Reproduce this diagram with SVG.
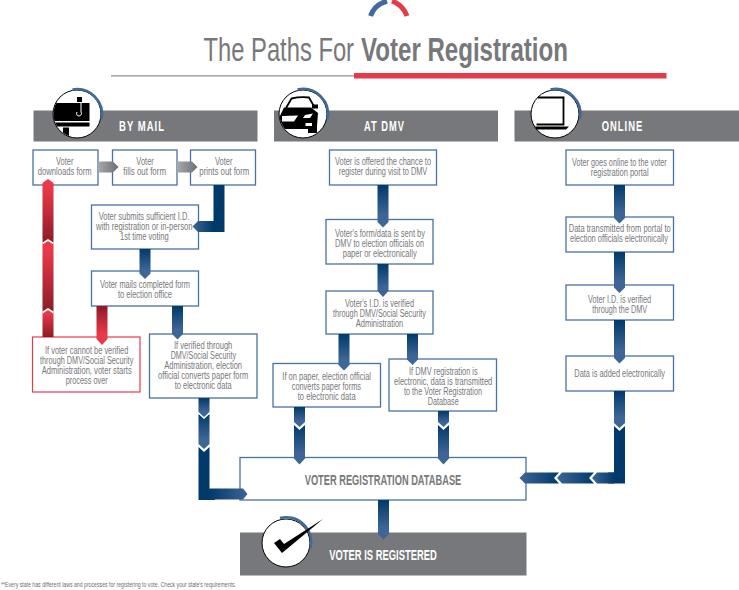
<svg xmlns="http://www.w3.org/2000/svg" width="739" height="590" viewBox="0 0 739 590">
<style>
text{font-family:"Liberation Sans",Arial,sans-serif}
.t{font-size:10px;fill:#77787b}
.h{font-size:14px;font-weight:bold;fill:#fff}
.s{letter-spacing:1.5px}
.box{fill:#fff;stroke:#4a71a0;stroke-width:1.3}
.red{fill:#fff;stroke:#e8394a;stroke-width:1.2}
.bar{fill:#77787b}
.cw{fill:none;stroke:#fff;stroke-width:1.8}
.ic{fill:#fff;stroke:#000;stroke-width:1}
.arc{fill:none;stroke:#41699a;stroke-width:2.6}
.k{fill:#000}
</style>
<defs>
<linearGradient id="gd" x1="0" y1="0" x2="0" y2="1"><stop offset="0" stop-color="#003a6b"/><stop offset=".7" stop-color="#3d6595"/></linearGradient>
<linearGradient id="gr" x1="0" y1="0" x2="1" y2="0"><stop offset="0" stop-color="#003a6b"/><stop offset="1" stop-color="#3d6595"/></linearGradient>
<linearGradient id="gl" x1="1" y1="0" x2="0" y2="0"><stop offset="0" stop-color="#003a6b"/><stop offset="1" stop-color="#3d6595"/></linearGradient>
<linearGradient id="ru" x1="0" y1="0" x2="0" y2="1"><stop offset="0" stop-color="#e8394a"/><stop offset=".15" stop-color="#e8394a"/><stop offset="1" stop-color="#8a1a26"/></linearGradient>
<linearGradient id="rd" x1="0" y1="0" x2="0" y2="1"><stop offset="0" stop-color="#8a1a26"/><stop offset=".7" stop-color="#e8394a"/></linearGradient>
<linearGradient id="gg" x1="0" y1="0" x2="1" y2="0"><stop offset="0" stop-color="#a7a9ac"/><stop offset="1" stop-color="#6d6e71"/></linearGradient>
<clipPath id="c1"><circle cx="77" cy="114" r="23.5"/></clipPath>
<clipPath id="c2"><circle cx="303" cy="114" r="23.5"/></clipPath>
</defs>

<g id="title">
<path d="M370.500 16Q374 5 387 1" fill="none" stroke="#41699a" stroke-width="5"/>
<path d="M407 16Q403 5 392 1" fill="none" stroke="#e8394a" stroke-width="5"/>
<text transform="translate(203.500 61) scale(.72 1)" font-size="33" fill="#77787b">The Paths For</text>
<text transform="translate(361 61) scale(.73 1)" font-size="33" font-weight="bold" fill="#77787b">Voter Registration</text>
<rect x="111" y="75" width="244" height="1.600" fill="#a7a9ac"/>
<rect x="354" y="73" width="312.500" height="5.500" fill="#e8394a"/>
</g>

<g id="by-mail">
<rect class="bar" x="33.500" y="110.500" width="224" height="31"/>
<circle class="ic" cx="77" cy="114" r="24"/>
<g clip-path="url(#c1)">
<rect class="k" x="52" y="103" width="37.500" height="18"/>
<rect class="k" x="52" y="122.500" width="37.500" height="4"/>
<rect class="k" x="63" y="127.500" width="6" height="12"/>
</g>
<path d="M79 98H81V112A2.500 2.500 0 1 1 77 112" fill="none" stroke="#fff" stroke-width="1"/>
<rect class="k" x="77" y="97" width="5" height="5"/>
<path class="arc" d="M72.500 89.500A25 25 0 0 1 101.500 119"/>
<text class="h s" x="119" y="131" textLength="46" lengthAdjust="spacingAndGlyphs">BY MAIL</text>
</g>
<g id="at-dmv">
<rect class="bar" x="274" y="110.500" width="224" height="31"/>
<circle class="ic" cx="303" cy="114" r="24"/>
<g clip-path="url(#c2)">
<path d="M286 108L291.500 98.500Q300 96.500 309 97.500L315 108" fill="none" stroke="#000" stroke-width="1.800"/>
<path class="k" d="M279 118L284 107.500H311L318 113L317 126V133H308V129H279Z"/>
<rect class="k" x="312" y="104.500" width="6" height="4"/>
</g>
<path d="M282 116L298 115.500L294 121.500H282ZM313 113.500L310 118H303L305 115ZM305.500 123H312V126H305.500Z" fill="#fff"/>
<path class="arc" d="M297.500 89.500A25 25 0 0 1 327.500 119"/>
<text class="h s" x="364" y="131" textLength="41" lengthAdjust="spacingAndGlyphs">AT DMV</text>
</g>
<g id="online">
<rect class="bar" x="514.500" y="110.500" width="224.500" height="31"/>
<circle class="ic" cx="555" cy="114" r="24"/>
<path d="M538 97.500H563.500V124.500H536.500" fill="none" stroke="#000" stroke-width="1.800"/>
<path class="k" d="M535 126.500H569L566 129.500H536Z"/>
<path class="arc" d="M550.500 89.500A25 25 0 0 1 580 119"/>
<text class="h s" x="601.700" y="131" textLength="41.600" lengthAdjust="spacingAndGlyphs">ONLINE</text>
</g>

<g id="n1"><rect class="box" x="33" y="150" width="65" height="35"/><text class="t" x="56" y="165" textLength="17.500" lengthAdjust="spacingAndGlyphs">Voter</text><text class="t" x="37.700" y="175" textLength="54" lengthAdjust="spacingAndGlyphs">downloads form</text></g>
<g id="n2"><rect class="box" x="112.500" y="150" width="64.500" height="35"/><text class="t" x="136.300" y="165" textLength="17.500" lengthAdjust="spacingAndGlyphs">Voter</text><text class="t" x="123.300" y="175" textLength="42.700" lengthAdjust="spacingAndGlyphs">fills out form</text></g>
<g id="n3"><rect class="box" x="190.500" y="150" width="65" height="35"/><text class="t" x="215" y="165" textLength="17.500" lengthAdjust="spacingAndGlyphs">Voter</text><text class="t" x="199.300" y="175" textLength="50" lengthAdjust="spacingAndGlyphs">prints out form</text></g>
<g id="n4"><rect class="box" x="91.500" y="205" width="107" height="44"/><text class="t" x="98.700" y="220" textLength="90.700" lengthAdjust="spacingAndGlyphs">Voter submits sufficient I.D.</text><text class="t" x="96" y="230" textLength="96.500" lengthAdjust="spacingAndGlyphs">with registration or in-person</text><text class="t" x="120" y="240" textLength="48.700" lengthAdjust="spacingAndGlyphs">1st time voting</text></g>
<g id="n5"><rect class="box" x="91.500" y="271" width="107" height="35"/><text class="t" x="100" y="288" textLength="90" lengthAdjust="spacingAndGlyphs">Voter mails completed form</text><text class="t" x="118" y="298" textLength="54" lengthAdjust="spacingAndGlyphs">to election office</text></g>
<g id="n6"><rect class="red" x="32.500" y="337" width="107.500" height="55"/><text class="t" x="45" y="354" textLength="83.300" lengthAdjust="spacingAndGlyphs">If voter cannot be verified</text><text class="t" x="40" y="364" textLength="93.300" lengthAdjust="spacingAndGlyphs">through DMV/Social Security</text><text class="t" x="41.700" y="374" textLength="90" lengthAdjust="spacingAndGlyphs">Administration, voter starts</text><text class="t" x="65.700" y="384" textLength="42" lengthAdjust="spacingAndGlyphs">process over</text></g>
<g id="n7"><rect class="box" x="149.500" y="334" width="107.500" height="64"/><text class="t" x="174" y="349" textLength="58.300" lengthAdjust="spacingAndGlyphs">If verified through</text><text class="t" x="170.700" y="359" textLength="65.300" lengthAdjust="spacingAndGlyphs">DMV/Social Security</text><text class="t" x="164.300" y="369" textLength="77.700" lengthAdjust="spacingAndGlyphs">Administration, election</text><text class="t" x="158" y="379" textLength="90.300" lengthAdjust="spacingAndGlyphs">official converts paper form</text><text class="t" x="174.700" y="389" textLength="57" lengthAdjust="spacingAndGlyphs">to electronic data</text></g>

<g id="n8"><rect class="box" x="329.500" y="150" width="107" height="35"/><text class="t" x="335" y="165" textLength="96" lengthAdjust="spacingAndGlyphs">Voter is offered the chance to</text><text class="t" x="338.700" y="175" textLength="88.600" lengthAdjust="spacingAndGlyphs">register during visit to DMV</text></g>
<g id="n9"><rect class="box" x="326" y="219.500" width="107" height="44.500"/><text class="t" x="335" y="236.500" textLength="90" lengthAdjust="spacingAndGlyphs">Voter's form/data is sent by</text><text class="t" x="335" y="246.500" textLength="89" lengthAdjust="spacingAndGlyphs">DMV to election officials on</text><text class="t" x="342.700" y="256.500" textLength="74" lengthAdjust="spacingAndGlyphs">paper or electronically</text></g>
<g id="n10"><rect class="box" x="326" y="291" width="107" height="43"/><text class="t" x="345" y="307" textLength="69" lengthAdjust="spacingAndGlyphs">Voter's I.D. is verified</text><text class="t" x="333" y="317" textLength="93" lengthAdjust="spacingAndGlyphs">through DMV/Social Security</text><text class="t" x="355.700" y="327" textLength="47.600" lengthAdjust="spacingAndGlyphs">Administration</text></g>
<g id="n11"><rect class="box" x="273" y="363.500" width="107.500" height="43.500"/><text class="t" x="282.300" y="380" textLength="88.700" lengthAdjust="spacingAndGlyphs">If on paper, election official</text><text class="t" x="291.700" y="390" textLength="69.300" lengthAdjust="spacingAndGlyphs">converts paper forms</text><text class="t" x="297.700" y="400" textLength="58" lengthAdjust="spacingAndGlyphs">to electronic data</text></g>
<g id="n12"><rect class="box" x="389" y="359" width="107.500" height="52"/><text class="t" x="409" y="374.500" textLength="68.700" lengthAdjust="spacingAndGlyphs">If DMV registration is</text><text class="t" x="394" y="384.500" textLength="98.300" lengthAdjust="spacingAndGlyphs">electronic, data is transmitted</text><text class="t" x="404" y="394.500" textLength="78" lengthAdjust="spacingAndGlyphs">to the Voter Registration</text><text class="t" x="427.700" y="404.500" textLength="31" lengthAdjust="spacingAndGlyphs">Database</text></g>

<g id="n13"><rect class="box" x="566" y="150" width="107.500" height="35"/><text class="t" x="572" y="166" textLength="94.700" lengthAdjust="spacingAndGlyphs">Voter goes online to the voter</text><text class="t" x="590.700" y="176" textLength="58" lengthAdjust="spacingAndGlyphs">registration portal</text></g>
<g id="n14"><rect class="box" x="566" y="217" width="107.500" height="35"/><text class="t" x="568.700" y="232" textLength="102" lengthAdjust="spacingAndGlyphs">Data transmitted from portal to</text><text class="t" x="570" y="242" textLength="98" lengthAdjust="spacingAndGlyphs">election officials electronically</text></g>
<g id="n15"><rect class="box" x="566" y="285" width="107.500" height="35"/><text class="t" x="588" y="302.500" textLength="63" lengthAdjust="spacingAndGlyphs">Voter I.D. is verified</text><text class="t" x="592.300" y="312.500" textLength="54.700" lengthAdjust="spacingAndGlyphs">through the DMV</text></g>
<g id="n16"><rect class="box" x="566" y="356" width="107.500" height="35"/><text class="t" x="574.300" y="376.500" textLength="90.700" lengthAdjust="spacingAndGlyphs">Data is added electronically</text></g>

<g id="n17"><rect class="box" x="240" y="457.500" width="286" height="42.500"/><text x="304.700" y="485" font-size="14" font-weight="bold" fill="#77787b" textLength="156.600" lengthAdjust="spacingAndGlyphs">VOTER REGISTRATION DATABASE</text></g>
<g id="n18"><rect class="bar" x="240" y="532.500" width="286.500" height="43"/><text class="h" x="329.300" y="560" textLength="107.400" lengthAdjust="spacingAndGlyphs">VOTER IS REGISTERED</text>
<circle class="ic" cx="286" cy="543" r="24"/>
<path class="arc" d="M280 518A25 25 0 0 1 310.500 548"/>
<path class="k" d="M274 543L280 539L284 544L323 519L282 553Z"/></g>

<g id="connectors">
<path fill="url(#gg)" d="M98 161.500H113L118.500 167L113 172.500H98Z"/>
<path fill="url(#gg)" d="M177 161.500H192L197.500 167L192 172.500H177Z"/>
<path fill="#003a6b" d="M213.500 185H224.500V232H208V221H213.500Z"/>
<path fill="url(#gl)" d="M213.500 221V232H198L192.500 226.500L198 221Z"/>
<path fill="url(#gd)" d="M139.500 249H150.500V273.500L145 279L139.500 273.500Z"/>
<path fill="url(#ru)" d="M42.500 183L48 179L53.500 183V244H42.500Z"/>
<path fill="url(#ru)" d="M42.500 244L48 240L53.500 244V313H42.500Z"/>
<path fill="url(#ru)" d="M42.500 313L48 309L53.500 313V337H42.500Z"/>
<path class="cw" d="M42.500 243.500L48 240L53.500 243.500M42.500 312.500L48 309L53.500 312.500"/>
<path fill="url(#rd)" d="M96.500 306H107.500V339L102 345L96.500 339Z"/>
<path fill="url(#gd)" d="M172 306H183V334L177.500 339.500L172 334Z"/>
<path fill="url(#gd)" d="M198.500 398H209.500V412L204 417L198.500 412Z"/>
<path fill="url(#gd)" d="M198.500 414L204 419L209.500 414V444L204 449L198.500 444Z"/>
<path fill="#003a6b" d="M198.500 447L204 452L209.500 447V489H215V500H198.500Z"/>
<path fill="url(#gr)" d="M209.500 488.500H243L247.500 494L243 499.500H209.500Z"/>
<path fill="url(#gd)" d="M377.500 185H388.500V222L383 227.500L377.500 222Z"/>
<path fill="url(#gd)" d="M377.500 264H388.500V291L383 297L377.500 291Z"/>
<path fill="url(#gd)" d="M338.500 334H349.500V365L344 370.500L338.500 365Z"/>
<path fill="url(#gd)" d="M407 334H418V359.500L412.500 365L407 359.500Z"/>
<path fill="url(#gd)" d="M294 407H305V422L299.500 427L294 422Z"/>
<path fill="url(#gd)" d="M294 425L299.500 430L305 425V458.500L299.500 464.500L294 458.500Z"/>
<path fill="url(#gd)" d="M438 411H449V422L443.500 427L438 422Z"/>
<path fill="url(#gd)" d="M438 425L443.500 430L449 425V458.500L443.500 464.500L438 458.500Z"/>
<path fill="url(#gd)" d="M614 185H625V218L619.500 223.500L614 218Z"/>
<path fill="url(#gd)" d="M614 252H625V287.500L619.500 293L614 287.500Z"/>
<path fill="url(#gd)" d="M614 320H625V358L619.500 363.500L614 358Z"/>
<path fill="url(#gd)" d="M614 391H625V423L619.500 428L614 423Z"/>
<path fill="#003a6b" d="M614 426L619.500 431L625 426V483.500H608V472.500H614Z"/>
<path fill="url(#gl)" d="M614 472.500V483.500H597L592 478L597 472.500Z"/>
<path fill="url(#gl)" d="M594 472.500L589 478L594 483.500H562L557 478L562 472.500Z"/>
<path fill="url(#gl)" d="M559 472.500L554 478L559 483.500H525L519.500 478L525 472.500Z"/>
<path fill="url(#gd)" d="M378 500H389V534L383.500 539.500L378 534Z"/>
</g>

<text x="1" y="586.500" font-size="6.500" fill="#6d6e71" textLength="235" lengthAdjust="spacingAndGlyphs">**Every state has different laws and processes for registering to vote. Check your state's requirements.</text>
</svg>
